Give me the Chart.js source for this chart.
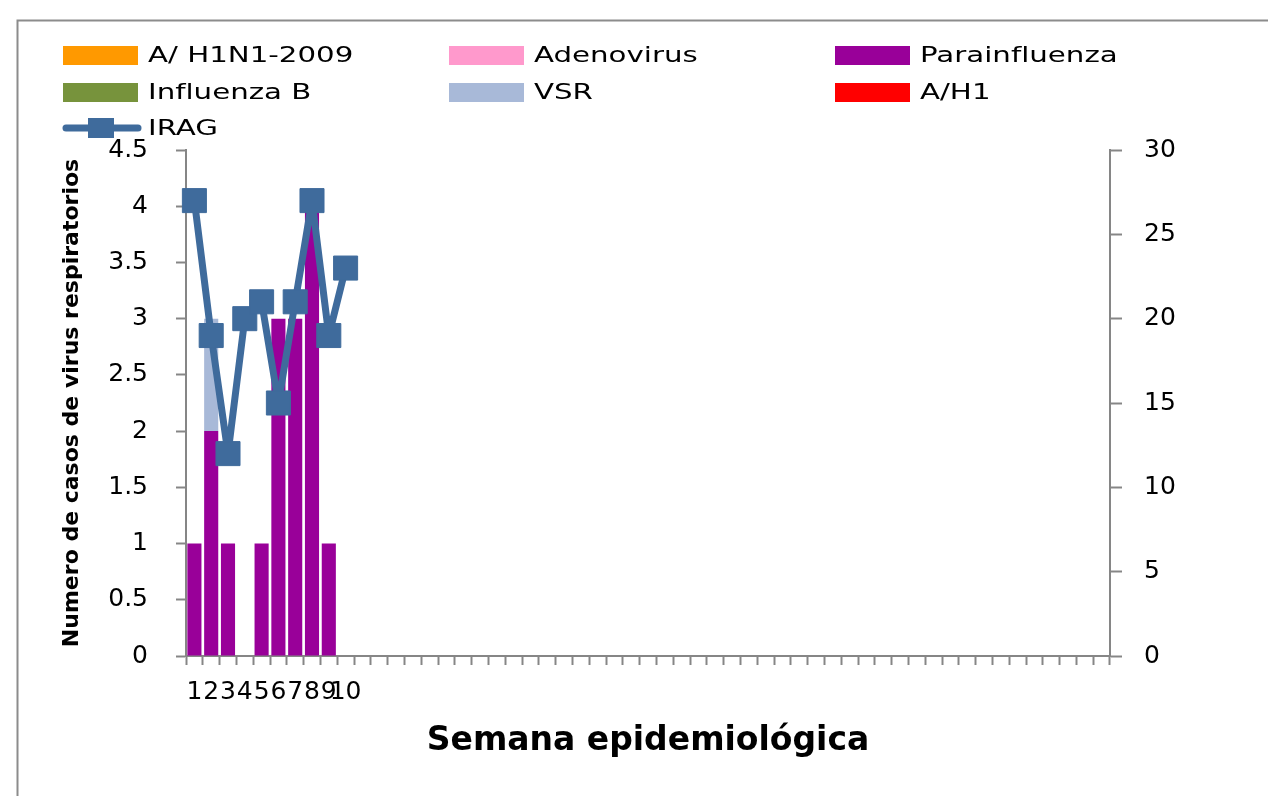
<!DOCTYPE html>
<html lang="es">
<head>
<meta charset="utf-8">
<title>IRAG y virus respiratorios por semana epidemiológica</title>
<script src="https://cdn.jsdelivr.net/npm/chart.js"></script>
<style>
  body { margin: 0; background: #fff; }
  canvas { display: block; }
</style>
</head>
<body>
<canvas id="virusChart" width="1268" height="796"></canvas>
<script>
// semanas con dato; el eje tiene 55 posiciones y solo 1-10 llevan etiqueta
const semanas = ['1', '2', '3', '4', '5', '6', '7', '8', '9', '10'];
const totalSemanas = 55;

// casos de virus respiratorios por semana (eje izquierdo)
const h1n1_2009     = [0, 0, 0, 0, 0, 0, 0, 0, 0, 0];
const adenovirus    = [0, 0, 0, 0, 0, 0, 0, 0, 0, 0];
const parainfluenza = [1, 2, 1, 0, 1, 3, 3, 4, 1, 0];
const influenzaB    = [0, 0, 0, 0, 0, 0, 0, 0, 0, 0];
const vsr           = [0, 1, 0, 0, 0, 0, 0, 0, 0, 0];
const ah1           = [0, 0, 0, 0, 0, 0, 0, 0, 0, 0];

// casos de IRAG (eje derecho)
const irag = [27, 19, 12, 20, 21, 15, 21, 27, 19, 23];

const etiquetas = semanas.concat(Array(totalSemanas - semanas.length).fill(''));
const gris = '#868686';
const azul = '#3F6B9C';

// marco gris de la hoja (solo se ven borde superior e izquierdo)
const marco = {
  id: 'marco',
  beforeDraw(chart) {
    const ctx = chart.ctx;
    ctx.save();
    ctx.fillStyle = '#fff';
    ctx.fillRect(0, 0, chart.width, chart.height);
    ctx.strokeStyle = '#8c8c8c';
    ctx.lineWidth = 2;
    ctx.beginPath();
    ctx.moveTo(17.5, chart.height);
    ctx.lineTo(17.5, 20.5);
    ctx.lineTo(chart.width, 20.5);
    ctx.stroke();
    ctx.restore();
  }
};

// leyenda en tres columnas como en Excel
const leyenda = {
  id: 'leyenda',
  afterDraw(chart) {
    const ctx = chart.ctx;
    const cols = [63, 449, 835];
    const rows = [55, 92, 128];
    ctx.save();
    ctx.font = '22px "DejaVu Sans", sans-serif';
    ctx.textBaseline = 'middle';
    chart.data.datasets.forEach((ds, i) => {
      const x = cols[i % 3];
      const y = rows[Math.floor(i / 3)];
      if (ds.type === 'line') {
        ctx.strokeStyle = ds.borderColor;
        ctx.lineWidth = 7;
        ctx.lineCap = 'round';
        ctx.beginPath();
        ctx.moveTo(x + 3, y);
        ctx.lineTo(x + 75, y);
        ctx.stroke();
        ctx.fillStyle = ds.borderColor;
        ctx.fillRect(x + 25, y - 10, 26, 20);
      } else {
        ctx.fillStyle = ds.backgroundColor;
        ctx.fillRect(x, y - 9, 75, 19);
      }
      ctx.fillStyle = '#000';
      ctx.save();
      ctx.translate(x + 85, y + 1);
      ctx.scale(1.33, 1);
      ctx.fillText(ds.label, 0, 0);
      ctx.restore();
    });
    ctx.restore();
  }
};

Chart.defaults.font.family = '"DejaVu Sans", sans-serif';
Chart.defaults.color = '#000';

function barra(label, data, color) {
  return {
    type: 'bar',
    label: label,
    data: data,
    backgroundColor: color,
    borderWidth: 0,
    yAxisID: 'y',
    order: 1,
    barPercentage: 0.84,
    categoryPercentage: 1.0
  };
}

new Chart(document.getElementById('virusChart'), {
  data: {
    labels: etiquetas,
    datasets: [
      barra('A/ H1N1-2009', h1n1_2009, '#FF9900'),
      barra('Adenovirus', adenovirus, '#FF99CC'),
      barra('Parainfluenza', parainfluenza, '#990099'),
      barra('Influenza B', influenzaB, '#77933C'),
      barra('VSR', vsr, '#A8B9D8'),
      barra('A/H1', ah1, '#FF0000'),
      {
        type: 'line',
        label: 'IRAG',
        data: irag,
        borderColor: azul,
        backgroundColor: azul,
        borderWidth: 7,
        borderJoinStyle: 'round',
        tension: 0,
        pointStyle: 'rect',
        pointRadius: 17,
        pointBackgroundColor: azul,
        pointBorderColor: azul,
        pointBorderWidth: 1,
        yAxisID: 'y1',
        order: 0
      }
    ]
  },
  options: {
    responsive: false,
    animation: false,
    layout: { padding: { top: 150, left: 0, right: 0, bottom: 0 } },
    plugins: {
      legend: { display: false },
      tooltip: { enabled: false }
    },
    scales: {
      x: {
        stacked: true,
        offset: true,
        grid: { drawOnChartArea: false, offset: true, tickLength: 9, tickColor: gris, tickWidth: 2 },
        border: { color: gris, width: 2 },
        ticks: { autoSkip: false, maxRotation: 0, minRotation: 0, padding: 12, font: { size: 25 } },
        title: {
          display: true,
          text: 'Semana epidemiológica',
          font: { size: 33, weight: 'bold' },
          padding: { top: 0, bottom: 35 }
        },
        afterFit(scale) { scale.height = 140; }
      },
      y: {
        stacked: true,
        position: 'left',
        min: 0,
        max: 4.5,
        ticks: { stepSize: 0.5, padding: 28, font: { size: 25 }, callback: v => String(v) },
        grid: { drawOnChartArea: false, tickLength: 10, tickColor: gris, tickWidth: 2 },
        border: { color: gris, width: 2 },
        title: {
          display: true,
          text: 'Numero de casos de virus respiratorios',
          font: { size: 22, weight: 'bold' },
          padding: { top: 59, bottom: 0 }
        },
        afterFit(scale) { scale.width = 186; }
      },
      y1: {
        position: 'right',
        min: 0,
        max: 30,
        ticks: { stepSize: 5, padding: 22, font: { size: 25 } },
        grid: { drawOnChartArea: false, tickLength: 12, tickColor: gris, tickWidth: 2 },
        border: { color: gris, width: 2 },
        afterFit(scale) { scale.width = 158; }
      }
    }
  },
  plugins: [marco, leyenda]
});
</script>
</body>
</html>
